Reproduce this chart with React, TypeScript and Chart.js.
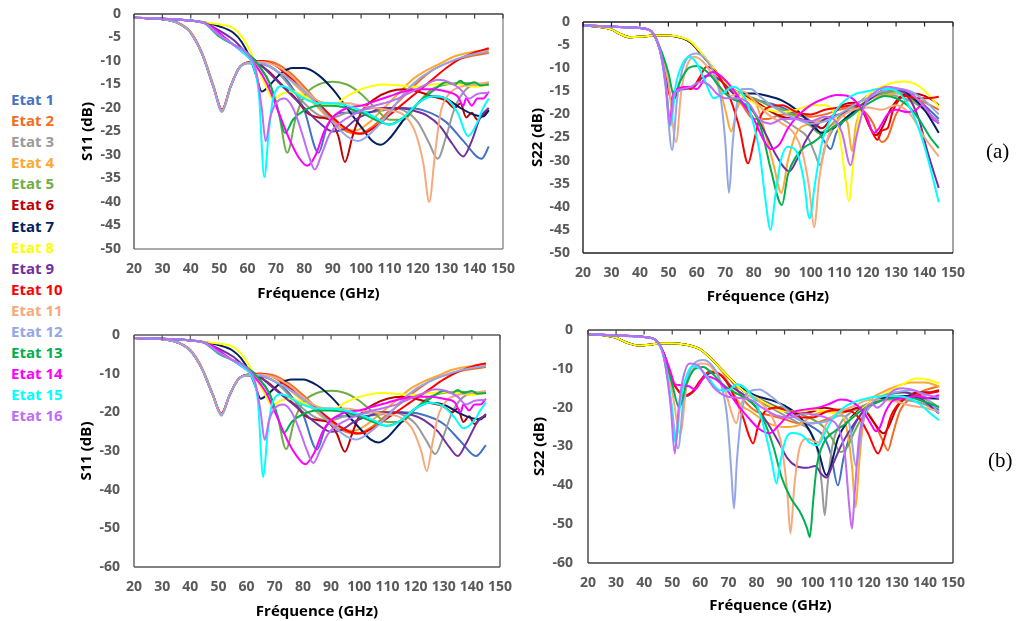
import React, { useEffect, useRef } from "react";
import { Chart, registerables } from "chart.js";

Chart.register(...registerables);

type Pt = [number, number];

const STATE_NAMES = [
  "Etat 1", "Etat 2", "Etat 3", "Etat 4", "Etat 5", "Etat 6", "Etat 7", "Etat 8",
  "Etat 9", "Etat 10", "Etat 11", "Etat 12", "Etat 13", "Etat 14", "Etat 15", "Etat 16",
];
const STATE_COLORS = [
  "#4472C4", "#F36C21", "#9A9A9A", "#FFA733", "#70AD47", "#C00000", "#002060", "#FFFF00",
  "#7030A0", "#FF0000", "#F8A97A", "#94A6E6", "#00B050", "#FF00FF", "#00FFFF", "#C06CF7",
];
const FREQ_TICKS = [20, 30, 40, 50, 60, 70, 80, 90, 100, 110, 120, 130, 140, 150];
const DB_TICKS_A = [0, -5, -10, -15, -20, -25, -30, -35, -40, -45, -50];
const DB_TICKS_B = [0, -10, -20, -30, -40, -50, -60];

// ---------- S11 (a) ----------
const S11A: Pt[][] = [
  [[20,-0.8],[30,-1.1],[35,-1.8],[40,-4],[44,-8.5],[48,-15.5],[51,-20.5],[54,-15.5],[57,-11.5],[60,-10.4],[65,-10.6],[70,-12],[75,-15],[80,-20.5],[85,-29.5],[88,-24],[93,-21],[100,-21],[108,-20.5],[115,-20],[122,-20.5],[130,-23],[136,-27],[142.5,-30.8],[145,-28.2]],
  [[20,-0.8],[30,-1.1],[35,-1.8],[40,-4],[44,-8.5],[48,-15.5],[51,-20.5],[54,-15.5],[57,-11.5],[60,-10.3],[65,-10],[70,-10.5],[75,-12.5],[80,-15.5],[85,-19],[90,-22.5],[95,-25],[99,-25.5],[104,-24],[110,-20.5],[115,-17.5],[120,-14.5],[125,-12],[130,-10.5],[135,-9.5],[140,-8.8],[145,-8.3]],
  [[20,-0.8],[30,-1.1],[35,-1.8],[40,-4],[44,-8.5],[48,-15.5],[51,-20.8],[54,-15.5],[57,-11.5],[60,-10.5],[65,-10.6],[70,-12],[75,-15.5],[80,-19],[85,-21.5],[90,-22],[95,-21],[100,-20.5],[105,-20],[110,-20],[115,-20.5],[120,-23],[124,-27.5],[127,-30.8],[130,-26],[133,-20],[137,-16],[141,-15],[145,-14.7]],
  [[20,-0.8],[30,-1.1],[35,-1.7],[40,-3.8],[44,-8.2],[48,-15.2],[51,-20.5],[54,-15.5],[57,-11.5],[60,-10.3],[65,-10],[70,-11],[75,-14],[80,-17],[85,-20],[90,-23],[95,-24.5],[98,-24.8],[103,-23],[108,-20],[113,-17],[118,-14],[123,-12],[128,-10.5],[133,-9],[140,-8],[145,-7.6]],
  [[20,-0.8],[30,-1],[40,-1.4],[45,-2],[50,-4.5],[55,-6.5],[60,-8.5],[64,-11],[68,-15],[71,-21],[74,-29.5],[77,-22],[80,-17.5],[85,-15],[90,-14.4],[95,-15],[100,-17],[105,-20],[110,-22.5],[115,-22.5],[120,-19],[125,-16],[130,-15],[135,-14.7],[140,-14.8],[145,-15]],
  [[20,-0.8],[30,-1.1],[35,-1.8],[40,-4],[44,-8.5],[48,-15.5],[51,-20.5],[54,-15.5],[57,-11.5],[60,-10.4],[63,-10.5],[67,-12],[72,-15],[77,-18],[81,-21],[85,-22],[89,-22.5],[92,-26],[94.3,-31.5],[97,-26],[100,-21],[105,-18],[110,-16.5],[115,-16],[120,-16.5],[125,-17.5],[130,-18.5],[133,-20],[135,-19],[137,-22],[139,-21],[141,-22.5],[143,-21.5],[145,-20.5]],
  [[20,-0.8],[30,-1],[40,-1.4],[45,-1.8],[50,-2.6],[55,-4],[58,-6],[61,-9.5],[63,-13],[65,-16.5],[68,-15],[72,-12.5],[76,-11.5],[80,-11.5],[85,-13],[90,-16],[95,-20],[100,-24],[104,-27],[107,-27.8],[110,-26.5],[115,-22.5],[120,-19],[125,-17.5],[130,-18],[135,-20],[140,-21.5],[143,-21.8],[145,-20.5]],
  [[20,-0.8],[30,-1],[40,-1.4],[45,-1.8],[50,-2.2],[55,-3],[58,-4.8],[61,-8],[64,-12],[67,-16],[69,-18.3],[72,-17],[76,-16.5],[80,-17.5],[85,-19],[90,-19.5],[95,-17.5],[100,-16],[108,-15],[115,-15.3],[120,-15.5],[125,-15],[130,-14.8],[135,-15],[140,-15.5],[145,-15]],
  [[20,-0.8],[30,-1],[40,-1.4],[45,-1.9],[50,-3.5],[55,-5.5],[60,-8.5],[65,-11],[70,-14],[75,-17],[80,-20],[85,-23],[90,-25],[94,-24.5],[98,-22.5],[103,-21],[108,-20],[113,-20],[118,-20.5],[123,-21.5],[128,-24],[132,-27.5],[136,-30.3],[139,-27],[142,-22],[145,-20]],
  [[20,-0.8],[30,-1.1],[35,-1.8],[40,-4],[44,-8.5],[48,-15.5],[51,-20.3],[54,-15.5],[57,-11.5],[60,-10.3],[65,-10],[70,-11],[75,-13.5],[80,-16],[85,-19],[90,-22],[95,-24.5],[100,-25.5],[105,-24],[110,-21.5],[115,-19],[120,-16.5],[125,-14],[130,-11.5],[135,-9.5],[140,-8.2],[145,-7.3]],
  [[20,-0.8],[30,-1.1],[35,-1.8],[40,-4],[44,-8.5],[48,-15.5],[51,-20.5],[54,-15.5],[57,-11.5],[60,-10.4],[65,-10.2],[70,-11],[75,-13],[80,-16],[85,-18.5],[90,-19],[95,-19],[100,-19.5],[105,-20],[110,-20.5],[115,-21.5],[119,-25],[122,-32],[124,-40],[126,-30],[128,-21],[131,-17],[135,-15.5],[140,-15],[145,-14.5]],
  [[20,-0.8],[30,-1.1],[35,-1.8],[40,-4],[44,-8.5],[48,-15.5],[51,-20.8],[54,-15.5],[57,-11.5],[60,-10.5],[65,-10.5],[70,-12],[75,-14],[80,-16.5],[85,-19.5],[90,-23],[95,-26],[99,-27],[104,-25],[110,-21],[115,-17],[120,-14],[125,-12],[130,-10.5],[135,-9.3],[140,-8.5],[145,-8]],
  [[20,-0.8],[30,-1],[40,-1.4],[45,-2],[50,-4.8],[55,-6.5],[60,-8.3],[64,-11],[68,-15],[71,-21],[73.2,-25.3],[76,-22.5],[80,-20.5],[85,-19.5],[90,-19.5],[95,-20],[100,-21],[105,-22.5],[110,-23.5],[115,-22],[120,-19],[125,-16.5],[130,-14.5],[133,-15],[135,-14.2],[137,-15],[140,-14.5],[142,-15.2],[145,-15]],
  [[20,-0.8],[30,-1],[40,-1.4],[45,-2],[48,-3],[52,-5],[56,-7],[60,-9],[63,-11],[67,-15],[71,-21],[75,-27],[78,-30.5],[81,-32.3],[84,-30],[87,-25],[90,-22],[95,-20],[100,-19.5],[105,-18.5],[110,-17.5],[115,-16.5],[120,-16],[125,-16],[130,-16.5],[134,-17.5],[136,-19.5],[137,-18],[139,-19.5],[141,-18],[143,-18],[145,-16.5]],
  [[20,-0.8],[30,-1],[40,-1.4],[45,-2],[50,-4.5],[55,-6.5],[59,-8.5],[62,-11],[64,-17],[65.9,-34.7],[67.5,-25],[69,-18],[72.4,-15.3],[76,-16.5],[80,-18],[85,-19],[90,-19],[95,-19.5],[100,-20.5],[105,-22],[110,-23.6],[115,-22],[120,-19],[125,-17.5],[130,-18],[134,-21],[137.7,-26],[141,-23],[143,-20],[145,-18]],
  [[20,-0.8],[30,-1],[40,-1.4],[45,-2],[50,-4.5],[55,-6.5],[60,-8.5],[63,-12],[65,-20],[66.4,-27.1],[68,-22],[70,-19],[73,-18],[76,-20],[79,-25],[81.5,-30],[83.7,-33.1],[86,-30],[89,-25.5],[93,-23],[97,-21.5],[102,-20],[108,-19],[113,-18],[118,-16.5],[123,-15],[127,-14],[131,-14.5],[135,-16],[138,-18],[141,-17],[145,-16.8]],
];

// ---------- S11 (b): series that differ from (a) ----------
const S11B_E1: Pt[] = [[20,-0.8],[30,-1.1],[35,-1.8],[40,-4],[44,-8.5],[48,-15.5],[51,-20.5],[54,-15.5],[57,-11.5],[60,-10.4],[65,-10.6],[70,-12],[75,-15],[80,-20.5],[85,-29.6],[88,-24],[93,-21],[100,-21],[108,-20.5],[115,-20],[122,-20.5],[130,-23],[136,-27.5],[141.5,-31.3],[145,-28.5]];
const S11B_E6: Pt[] = [[20,-0.8],[30,-1.1],[35,-1.8],[40,-4],[44,-8.5],[48,-15.5],[51,-20.5],[54,-15.5],[57,-11.5],[60,-10.4],[63,-10.5],[67,-12],[72,-15],[77,-18],[81,-21],[85,-22],[89,-22.5],[92,-25.5],[94.9,-30.2],[97.5,-25.5],[100,-21],[105,-18],[110,-16.5],[115,-16],[120,-16.5],[125,-17.5],[130,-18.5],[133,-20],[135,-19],[137,-22.5],[139,-21],[141,-23],[143,-21.5],[145,-21]];
const S11B_E9: Pt[] = [[20,-0.8],[30,-1],[40,-1.4],[45,-1.9],[50,-3.5],[55,-5.5],[60,-8.5],[65,-11],[70,-14],[75,-17],[80,-20],[85,-23],[90,-25],[94,-24.5],[98,-22.5],[103,-21],[108,-20],[113,-20],[118,-20.5],[123,-22],[128,-25],[132,-29],[135,-31.3],[138,-28],[142,-22.5],[145,-20.5]];
const S11B_E11: Pt[] = [[20,-0.8],[30,-1.1],[35,-1.8],[40,-4],[44,-8.5],[48,-15.5],[51,-20.5],[54,-15.5],[57,-11.5],[60,-10.4],[65,-10.2],[70,-11],[75,-13],[80,-16],[85,-18.5],[90,-19],[95,-19],[100,-19.5],[105,-20],[110,-20.5],[115,-21.5],[119,-24.5],[122,-30],[124,-35.2],[126,-28],[128,-21],[131,-17],[135,-15.5],[140,-15],[145,-14.5]];
const S11B_E14: Pt[] = [[20,-0.8],[30,-1],[40,-1.4],[45,-2],[48,-3],[52,-5],[56,-7],[60,-9],[63,-11],[67,-15],[71,-21.5],[75,-28],[78,-31.5],[80.8,-33.4],[84,-30.5],[87,-25],[90,-22],[95,-20],[100,-19.5],[105,-18.5],[110,-17.5],[115,-16.5],[120,-16],[125,-16],[130,-16.5],[134,-17.5],[136,-20],[137,-18],[139,-19.5],[141,-18],[143,-18],[145,-16.5]];
const S11B_E15: Pt[] = [[20,-0.8],[30,-1],[40,-1.4],[45,-2],[50,-4.5],[55,-6.5],[59,-8.5],[62,-11],[64,-17],[65.9,-36.7],[67.5,-25],[69,-18],[72.4,-15.3],[76,-16.5],[80,-18],[85,-19],[90,-19],[95,-19.5],[100,-20.5],[105,-22],[110,-23.6],[115,-22],[120,-19],[125,-17.5],[130,-18.5],[134,-21.5],[137,-24.1],[141,-22],[143,-19.5],[145,-17.5]];
const S11B: Pt[][] = [
  S11B_E1, S11A[1], S11A[2], S11A[3], S11A[4], S11B_E6, S11A[6], S11A[7],
  S11B_E9, S11A[9], S11B_E11, S11A[11], S11A[12], S11B_E14, S11B_E15, S11A[15],
];

// ---------- S22 (a) ----------
const S22A: Pt[][] = [
  [[20,-0.7],[25,-1],[30,-1.6],[33,-2.6],[36.5,-3.3],[40,-3.2],[45,-2.9],[50,-2.9],[55,-3.5],[58,-4.5],[61,-6.5],[64,-8.7],[67,-11],[71,-13.7],[75,-15.5],[79,-16.5],[85,-17.5],[90,-18.5],[95,-20],[99,-21],[102,-23],[105,-26],[107,-27.5],[109,-24],[112,-21],[116,-19],[120,-17],[125,-15.5],[130,-15],[135,-15.5],[140,-18],[145,-21]],
  [[20,-0.7],[25,-1],[30,-1.6],[33,-2.6],[36.5,-3.3],[40,-3.2],[45,-2.9],[50,-2.9],[55,-3.5],[58,-4.5],[61,-6.5],[64,-8.7],[67,-11],[71,-14],[76,-18],[80,-21],[85,-21],[90,-20],[95,-20],[100,-20.5],[105,-20],[110,-19],[115,-18.5],[119,-19.5],[122,-22],[125,-26],[127,-25],[130,-20],[134,-17],[138,-17],[142,-18],[145,-19]],
  [[20,-0.7],[25,-1],[30,-1.6],[33,-2.6],[36.5,-3.3],[40,-3.2],[45,-2.9],[50,-2.9],[55,-3.5],[58,-4.5],[61,-6.5],[64,-8.7],[67,-11],[71,-13.7],[75,-15.5],[80,-17],[85,-19],[90,-21],[95,-23],[99,-25],[101.5,-28.5],[103.3,-31],[105,-27],[108,-23],[112,-19.5],[116,-18],[120,-16],[125,-15.5],[130,-16],[135,-17],[140,-19],[145,-21.5]],
  [[20,-0.7],[25,-1],[30,-1.6],[33,-2.6],[36.5,-3.3],[40,-3.2],[45,-2.9],[50,-2.9],[55,-3.5],[58,-4.5],[61,-6.5],[64,-8.7],[67,-12],[70,-19],[72.1,-23.7],[74,-19],[77,-16],[81,-18],[84,-24],[87,-31],[89.7,-37],[92,-30],[95,-24],[100,-22],[105,-21],[110,-20],[113,-22],[114.5,-28],[116,-22],[120,-17],[125,-16],[130,-15.5],[135,-16.5],[140,-19],[145,-22]],
  [[20,-0.7],[25,-1],[30,-1.6],[33,-2.6],[36.5,-3.3],[40,-3.2],[45,-2.9],[50,-2.9],[55,-3.5],[58,-4.5],[61,-6.5],[64,-8.7],[67,-11],[71,-13.7],[75,-15.5],[80,-16.5],[85,-18],[90,-19],[95,-20.5],[100,-22.5],[103,-24],[106,-23],[110,-20.5],[115,-18],[120,-16.5],[125,-15.5],[130,-15],[135,-16.5],[140,-19],[145,-22]],
  [[20,-0.7],[25,-1],[30,-1.6],[33,-2.6],[36.5,-3.3],[40,-3.2],[45,-2.9],[50,-2.9],[55,-3.5],[58,-4.5],[61,-6.5],[64,-8.7],[67,-11],[71,-13.7],[75,-15.5],[80,-17],[85,-19],[90,-20.5],[95,-21],[100,-21.5],[104,-23],[107,-21],[110,-18.5],[115,-17.5],[118,-19],[121,-23],[123,-24.5],[125,-23],[128,-19],[132,-16],[136,-15.5],[140,-16],[143,-17],[145,-18]],
  [[20,-0.7],[25,-1],[30,-1.6],[33,-2.6],[36.5,-3.3],[40,-3.2],[45,-2.9],[50,-2.9],[55,-3.5],[58,-4.5],[61,-6.5],[64,-8.7],[67,-11],[71,-13.7],[75,-15.3],[80,-15.5],[85,-16],[90,-17],[95,-19],[100,-22],[104,-24],[108,-23],[112,-21],[116,-19],[120,-17],[125,-15],[130,-14.5],[135,-16],[140,-19],[145,-24]],
  [[20,-0.7],[25,-1],[30,-1.6],[33,-2.6],[36.5,-3.3],[40,-3.2],[45,-2.9],[50,-2.9],[55,-3.4],[58,-4.3],[61,-6.3],[64,-8.5],[67,-11],[71,-13.7],[75,-15.5],[80,-17.5],[85,-19],[90,-19.5],[95,-19],[100,-18],[105,-18],[108,-19.5],[110,-24],[112,-33],[113.4,-38.8],[115,-30],[117,-20],[120,-16],[125,-14],[130,-13],[133,-12.9],[137,-13.5],[141,-15.5],[145,-18.3]],
  [[20,-0.7],[30,-1],[40,-1.3],[44,-2],[47,-6],[49.5,-13],[51.5,-17],[53.5,-15],[56,-14.5],[59,-14],[62,-12],[65,-11.5],[68,-12.5],[72,-15],[76,-17.5],[80,-19.5],[84,-24],[88,-29],[92.5,-32.3],[95,-30],[98,-26],[101,-23],[105,-21],[110,-20],[115,-19],[120,-17],[125,-15],[130,-14.5],[134,-16],[138,-21],[141,-28],[145,-35.9]],
  [[20,-0.7],[30,-1],[40,-1.3],[44,-2],[47,-6],[49.5,-13],[51,-16.9],[53,-15],[55,-14],[58,-14.5],[61,-12],[63.4,-9.7],[66,-10.5],[69,-13],[72,-17],[75,-23],[78,-30.6],[80,-26],[82,-21],[85,-18.5],[90,-18],[95,-19.5],[100,-20],[105,-19],[110,-18.5],[115,-18],[119,-20],[121,-23],[123.5,-25.5],[125,-23.5],[127,-23],[129,-19],[133,-16],[137,-16.5],[141,-16.5],[145,-16.2]],
  [[20,-0.7],[30,-1],[40,-1.3],[44,-2],[47,-5.5],[50,-13],[52.7,-26],[54.5,-15],[56.5,-9.5],[59,-7.5],[62,-8.5],[65,-11],[68,-14.5],[72,-16],[76,-15],[80,-17],[85,-20],[90,-22],[94,-24],[97,-28],[99.5,-36],[101.2,-44.4],[103,-34],[106,-25],[110,-21],[115,-19],[120,-18.5],[125,-19],[130,-18],[135,-20],[140,-25],[145,-29.1]],
  [[20,-0.7],[30,-1],[40,-1.3],[44,-2],[47,-6],[49,-14],[51.3,-27.7],[53,-17],[55,-10],[57,-7.5],[59.8,-6.8],[63,-8],[66,-11],[68.5,-17],[70,-26],[71.3,-37],[72.5,-27],[74,-18],[76,-14.5],[79,-14.5],[82,-16],[86,-18],[90,-19.5],[95,-21],[100,-22],[105,-21.5],[110,-20],[115,-18],[120,-16.5],[125,-15],[130,-14.5],[135,-15],[140,-17],[145,-20]],
  [[20,-0.7],[30,-1],[40,-1.3],[44,-2],[47,-5.5],[50,-11],[52,-16],[54,-13],[57,-10],[60,-9.5],[64,-11],[68,-14],[72,-16.5],[76,-17.5],[80,-19.5],[83,-24],[86,-32],[89.9,-39.6],[92,-33],[95,-29],[98,-27],[101,-26],[105,-24],[110,-22],[114,-20.5],[118,-18.5],[122,-17],[126,-16],[130,-16.5],[134,-18],[138,-21],[142,-25],[145,-27.3]],
  [[20,-0.7],[30,-1],[40,-1.3],[44,-2],[47,-6],[49,-13],[50.5,-21],[52,-15],[54,-14.3],[57,-14],[60,-14.5],[63,-12],[65.5,-10.8],[68,-11.5],[72,-14],[76,-17.5],[80,-21],[83,-25],[86,-27.5],[89,-26.5],[92,-23],[96,-20],[100,-18],[105,-16.5],[109,-15.8],[113,-16],[117,-18],[120,-21],[122,-24],[124,-23],[127,-20],[130,-19],[134,-19.5],[137,-19],[139,-18],[141,-19],[143,-21],[145,-21.9]],
  [[20,-0.7],[30,-1],[40,-1.3],[44,-2],[47,-6],[49,-13],[50.8,-22.5],[52.5,-14],[55,-9],[57.3,-7.5],[60,-9],[63,-13],[66,-16.5],[69,-15.5],[72.7,-14],[76,-15.5],[79,-20],[82,-28],[84,-38],[85.9,-45],[87.5,-38],[89.5,-30],[92,-27],[95,-28],[97.5,-34],[99.6,-42.5],[101.5,-35],[104,-26],[108,-20],[112,-17],[116,-15.5],[120,-15],[124,-14.5],[128,-14.5],[132,-16],[136,-20],[140,-27],[143,-34],[145,-39]],
  [[20,-0.7],[30,-1],[40,-1.3],[44,-2],[47,-6],[49,-13],[50.5,-22.3],[52,-15.5],[55,-14.5],[58,-14],[61,-13],[64,-13.5],[67,-15.5],[70,-16.5],[74,-16.5],[78,-17.5],[82,-21],[86,-22],[90,-21],[95,-21],[100,-21.5],[105,-20.5],[108,-21],[111,-24],[114,-31],[116,-25],[119,-18],[123,-15],[127,-14],[130,-14.3],[134,-15],[138,-17],[142,-20],[145,-22]],
];

// ---------- S22 (b) ----------
const S22B: Pt[][] = [
  [[20,-1],[25,-1.3],[30,-2],[34,-3.3],[38,-4],[42,-3.8],[46,-3.4],[50,-3.4],[55,-3.8],[60,-5],[64,-7.5],[68,-10.5],[72,-13.5],[76,-16],[80,-17.5],[85,-19],[90,-21],[95,-23],[100,-25],[104,-27.5],[106.5,-32],[109,-40],[111,-33],[114,-26],[118,-21],[122,-19],[127,-17.5],[132,-17],[137,-17.5],[141,-19],[145,-20.6]],
  [[20,-1],[25,-1.3],[30,-2],[34,-3.3],[38,-4],[42,-3.8],[46,-3.4],[50,-3.4],[55,-3.8],[60,-5],[64,-7.5],[68,-10.5],[72,-14],[76,-18.5],[80,-21],[85,-22],[90,-23],[95,-24],[100,-24],[105,-23],[110,-21.5],[115,-20.5],[119,-21],[122,-24],[125,-28.5],[126.8,-31],[128.5,-27],[131,-21],[135,-17.5],[140,-15.5],[145,-14.5]],
  [[20,-1],[25,-1.3],[30,-2],[34,-3.3],[38,-4],[42,-3.8],[46,-3.4],[50,-3.4],[55,-3.8],[60,-5],[64,-7.5],[68,-10.5],[72,-13.5],[76,-16],[80,-18],[85,-20],[90,-22],[95,-24],[99,-26],[102,-32],[103.3,-40],[104.3,-47.7],[105.3,-40],[107,-30],[110,-24],[114,-21],[118,-19.5],[122,-18.5],[127,-18],[132,-18],[137,-18.5],[141,-19.5],[145,-21]],
  [[20,-1],[25,-1.3],[30,-2],[34,-3.3],[38,-4],[42,-3.8],[46,-3.4],[50,-3.4],[55,-3.8],[60,-5],[64,-7.5],[68,-11],[71,-15],[74,-19],[78,-21],[82,-23],[86,-24.5],[90,-25],[95,-24.5],[100,-22],[105,-21],[109,-21],[112,-25],[114,-35],[115.3,-45.6],[116.5,-35],[118,-24],[121,-18],[125,-16],[130,-14.5],[135,-13.5],[140,-13.5],[145,-14.5]],
  [[20,-1],[25,-1.3],[30,-2],[34,-3.3],[38,-4],[42,-3.8],[46,-3.4],[50,-3.4],[55,-3.8],[60,-5],[64,-7.5],[68,-10.5],[72,-13.5],[76,-16],[80,-18],[85,-19.5],[90,-20],[95,-21.5],[100,-23],[104,-25],[107,-28],[110,-31.4],[112.5,-30],[115,-26],[119,-21],[123,-18],[128,-16.5],[133,-16],[138,-17],[142,-18.5],[145,-20]],
  [[20,-1],[25,-1.3],[30,-2],[34,-3.3],[38,-4],[42,-3.8],[46,-3.4],[50,-3.4],[55,-3.8],[60,-5],[64,-7.5],[68,-10.5],[72,-13.5],[76,-16],[80,-17.5],[85,-19.5],[90,-20.5],[95,-21.5],[100,-21],[104,-20],[108,-20.5],[112,-21],[116,-20],[119,-21],[122,-24],[125.3,-26.6],[127,-25],[130,-20],[134,-17],[138,-16],[142,-16],[145,-15.5]],
  [[20,-1],[25,-1.3],[30,-2],[34,-3.3],[38,-4],[42,-3.8],[46,-3.4],[50,-3.4],[55,-3.8],[60,-5],[64,-7.5],[68,-10.5],[72,-13.5],[76,-15.5],[80,-17],[85,-18],[90,-19.5],[95,-22],[99,-26],[102,-31],[104.9,-37.4],[106.5,-35],[109,-28],[112,-24],[116,-21],[120,-19],[125,-17.5],[130,-17],[135,-17],[140,-17.5],[145,-17.7]],
  [[20,-1],[25,-1.3],[30,-2],[34,-3.3],[38,-4],[42,-3.8],[46,-3.4],[50,-3.4],[55,-3.8],[60,-5],[64,-7.5],[68,-10.5],[72,-13.5],[76,-16],[80,-17.5],[85,-19.5],[90,-21],[95,-21],[100,-20.5],[105,-21],[110,-22],[113,-23],[115,-22],[118,-20],[122,-18],[127,-16],[132,-14],[137,-12.5],[141,-12.8],[145,-13.7]],
  [[20,-1],[30,-1.4],[40,-1.8],[44,-2.5],[47,-6],[50,-13],[52.5,-16],[55,-17],[58,-15.5],[61,-12.5],[64,-11],[67,-11.5],[71,-14.5],[76,-17],[80,-20],[84,-24],[88,-29],[91,-33],[94,-35],[98,-35.5],[101,-35],[103,-37],[105,-38],[107,-35],[110,-30],[114,-25],[118,-21],[122,-18.5],[127,-16.5],[132,-16],[137,-17],[141,-19],[145,-21.5]],
  [[20,-1],[30,-1.4],[40,-1.8],[44,-2.5],[47,-6],[50,-13],[52,-15.5],[54,-16.8],[57,-16],[60,-13],[63.3,-10.7],[66,-11],[69,-13],[72,-17],[75,-22],[77.5,-27.5],[78.8,-29.2],[80.5,-25],[83,-21],[87,-20],[92,-21],[96,-22.5],[100,-22.5],[105,-21],[110,-20.5],[114,-21],[117,-23],[120,-27],[123.3,-31.8],[125.5,-28],[128,-22],[132,-18],[136,-17],[140,-16.5],[145,-15.8]],
  [[20,-1],[30,-1.4],[40,-1.8],[44,-2.5],[47,-6.5],[50,-16],[52.9,-26.7],[55,-15],[57.5,-10],[60.5,-8.6],[63,-9],[66,-11.5],[69,-16],[71,-21],[72.8,-24],[74.5,-19],[78,-17],[82,-19],[86,-23],[89,-30],[91,-42],[92.1,-52.4],[93.5,-40],[95.5,-30],[98,-28],[102,-29],[105,-24],[110,-21],[115,-19.5],[120,-18],[125,-18],[130,-18.5],[135,-19.5],[140,-20],[145,-21]],
  [[20,-1],[30,-1.4],[40,-1.8],[44,-2.5],[47,-7],[49.5,-18],[52.1,-30.5],[54,-18],[56,-11],[58,-8.5],[61,-7.7],[64,-9],[67,-13],[69.5,-22],[71,-36],[72,-46],[73,-34],[75,-20],[77,-16],[81,-15.3],[85,-17],[90,-20],[95,-23],[100,-24],[105,-23.5],[110,-22],[113,-24],[115.5,-35],[117.5,-25],[121,-19],[125,-17],[130,-16],[135,-15.5],[140,-17],[145,-21.5]],
  [[20,-1],[30,-1.4],[40,-1.8],[44,-2.5],[47,-6],[50,-14],[52.5,-20],[55,-14],[58,-10],[61,-9.5],[64,-11],[68,-14],[72,-16],[76,-17.5],[80,-20],[83,-24],[86,-30],[89,-38],[92,-43],[96,-47.5],[98,-51],[99,-53.3],[100.2,-44],[101.5,-35],[104,-29],[108,-26],[112,-24],[116,-21.5],[120,-19.5],[125,-18],[130,-17.5],[135,-17.5],[140,-18.5],[145,-19.8]],
  [[20,-1],[30,-1.4],[40,-1.8],[44,-2.5],[47,-6],[49.5,-11],[51,-14],[53,-14.2],[56,-14.5],[58,-15.3],[61.8,-12],[65,-12.5],[69,-15],[73,-19],[77,-22.5],[81,-25.5],[84.7,-26.6],[88,-24.5],[92,-21.5],[97,-20.5],[102,-20],[106,-19],[110,-17.9],[114,-18.5],[118,-21],[121,-24.5],[122.6,-26.1],[124,-25],[126,-21],[129,-18],[133,-17.5],[137,-17],[141,-17.5],[145,-16.8]],
  [[20,-1],[30,-1.4],[40,-1.8],[44,-2.5],[47,-7],[49.5,-18],[51.2,-29],[53,-18],[55,-12],[57.4,-9.3],[60,-10],[63,-12.5],[67,-15.5],[70,-15.5],[73,-14],[76,-15],[80,-19],[83,-26],[85.5,-34],[87.1,-39.5],[88.5,-34],[90.5,-28],[93,-26.5],[96,-27],[99,-29],[101.9,-29.7],[104,-27],[107,-23],[111,-20],[115,-18.5],[120,-17.5],[125,-17],[130,-17],[134,-17.5],[138,-19],[142,-21.5],[145,-23.2]],
  [[20,-1],[30,-1.4],[40,-1.8],[44,-2.5],[47,-7],[49.5,-20],[50.9,-31.8],[52.3,-20],[54,-12],[56.2,-8.6],[59,-9],[62,-12],[65,-15],[69,-17],[74,-17.5],[78,-18],[82,-20],[87,-22],[92,-22.5],[97,-21.5],[102,-22],[106,-23],[109,-25],[111.5,-32],[113,-45],[114,-51.1],[115,-42],[116.5,-28],[118.5,-21],[121,-19],[123,-20],[125,-19],[128,-16],[132,-15],[136,-15.5],[140,-16.5],[145,-17.5]],
];

const FONT = "'Open Sans', 'DejaVu Sans', sans-serif";

type Area = { l: number; t: number; r: number; b: number };
type PanelProps = {
  area: Area;
  yTitle: string;
  yTicks: number[];
  series: Pt[][];
  yTitleX: number;
  xTitleY: number;
  yTickPad: number;
  xTickPad: number;
  frame: { left: string; top: string; right: string; bottom: string };
};

const PAD_TOP = 26;
const PAD_RIGHT = 30;

function Panel(p: PanelProps) {
  const ref = useRef<HTMLCanvasElement>(null);
  const canvasLeft = p.yTitleX - 9;
  const yAxisW = p.area.l - canvasLeft;
  const canvasTop = p.area.t - PAD_TOP;
  const width = p.area.r + PAD_RIGHT - canvasLeft;
  const height = p.xTitleY + 9 - canvasTop;
  const xAxisH = p.xTitleY + 9 - p.area.b;

  useEffect(() => {
    const frame = {
      id: "frame",
      afterDatasetsDraw(chart: any) {
        const { ctx, chartArea } = chart;
        const { left, top, right, bottom } = chartArea;
        const xs = chart.scales.x;
        ctx.save();
        ctx.lineWidth = 1.4;
        const seg = (c: string, x1: number, y1: number, x2: number, y2: number) => {
          ctx.strokeStyle = c;
          ctx.beginPath();
          ctx.moveTo(x1, y1);
          ctx.lineTo(x2, y2);
          ctx.stroke();
        };
        seg(p.frame.right, right, top, right, bottom);
        seg(p.frame.bottom, left, bottom, right, bottom);
        seg(p.frame.left, left, top, left, bottom);
        seg(p.frame.top, left, top, right, top);
        ctx.lineWidth = 1.2;
        for (const v of FREQ_TICKS) {
          const px = xs.getPixelForValue(v);
          seg(p.frame.top, px, top, px, top + 4.5);
        }
        ctx.restore();
      },
    };
    const n = p.series.length;
    const chart = new Chart(ref.current as HTMLCanvasElement, {
      type: "line",
      data: {
        datasets: p.series.map((pts, i) => ({
          label: STATE_NAMES[i],
          data: pts.map(([x, y]) => ({ x, y })),
          borderColor: STATE_COLORS[i],
          backgroundColor: STATE_COLORS[i],
          borderWidth: 2,
          pointRadius: 0,
          cubicInterpolationMode: "monotone" as const,
          fill: false,
          order: n - i,
        })),
      },
      options: {
        responsive: false,
        animation: false,
        events: [],
        layout: { padding: { top: PAD_TOP, right: PAD_RIGHT, left: 0, bottom: 0 } },
        plugins: { legend: { display: false }, tooltip: { enabled: false } },
        scales: {
          x: {
            type: "linear",
            min: 20,
            max: 150,
            afterBuildTicks: (s: any) => {
              s.ticks = FREQ_TICKS.map((v) => ({ value: v }));
            },
            afterFit: (s: any) => {
              s.height = xAxisH;
            },
            ticks: {
              padding: p.xTickPad,
              color: "#595959",
              font: { family: FONT, size: 14, weight: "bold" },
              callback: (v: any) => String(v),
              maxRotation: 0,
              autoSkip: false,
            },
            grid: { display: false, drawTicks: false },
            border: { display: false },
            title: {
              display: true,
              text: "Fréquence (GHz)",
              color: "#000",
              font: { family: FONT, size: 15, weight: "bold" },
              padding: { top: 0, bottom: 0 },
            },
          },
          y: {
            type: "linear",
            min: p.yTicks[p.yTicks.length - 1],
            max: p.yTicks[0],
            afterBuildTicks: (s: any) => {
              s.ticks = p.yTicks.slice().reverse().map((v) => ({ value: v }));
            },
            afterFit: (s: any) => {
              s.width = yAxisW;
            },
            ticks: {
              padding: p.yTickPad,
              color: "#595959",
              font: { family: FONT, size: 14, weight: "bold" },
              callback: (v: any) => String(v),
              autoSkip: false,
            },
            grid: { display: false, drawTicks: false },
            border: { display: false },
            title: {
              display: true,
              text: p.yTitle,
              color: "#000",
              font: { family: FONT, size: 15, weight: "bold" },
              padding: { top: 0, bottom: 0 },
            },
          },
        },
      } as any,
      plugins: [frame],
    });
    return () => chart.destroy();
  }, []);

  return (
    <canvas
      ref={ref}
      width={width}
      height={height}
      style={{ position: "absolute", left: canvasLeft, top: canvasTop, width, height }}
    />
  );
}

export default function App() {
  return (
    <div
      style={{
        position: "fixed",
        left: 0,
        top: 0,
        width: 1016,
        height: 621,
        background: "#fff",
        overflow: "hidden",
      }}
    >
      <div style={{ position: "absolute", left: 11, top: 89, fontFamily: FONT, fontWeight: 700, fontSize: 15 }}>
        {STATE_NAMES.map((n, i) => (
          <div key={n} style={{ color: STATE_COLORS[i], height: 21.1, lineHeight: "21.1px", whiteSpace: "nowrap" }}>
            {n}
          </div>
        ))}
      </div>
      <Panel
        area={{ l: 134, t: 14, r: 503, b: 249 }}
        yTitle="S11 (dB)"
        yTicks={DB_TICKS_A}
        series={S11A}
        yTitleX={88}
        xTitleY={294}
        yTickPad={13}
        xTickPad={12}
        frame={{ left: "#595959", top: "#404040", right: "#8c8c8c", bottom: "#8c8c8c" }}
      />
      <Panel
        area={{ l: 583, t: 22, r: 953, b: 253 }}
        yTitle="S22 (dB)"
        yTicks={DB_TICKS_A}
        series={S22A}
        yTitleX={538}
        xTitleY={297}
        yTickPad={13}
        xTickPad={12}
        frame={{ left: "#202020", top: "#202020", right: "#7f7f7f", bottom: "#202020" }}
      />
      <Panel
        area={{ l: 134, t: 335, r: 500, b: 567 }}
        yTitle="S11 (dB)"
        yTicks={DB_TICKS_B}
        series={S11B}
        yTitleX={87}
        xTitleY={612}
        yTickPad={14}
        xTickPad={12}
        frame={{ left: "#595959", top: "#595959", right: "#595959", bottom: "#595959" }}
      />
      <Panel
        area={{ l: 588, t: 330, r: 953, b: 563 }}
        yTitle="S22 (dB)"
        yTicks={DB_TICKS_B}
        series={S22B}
        yTitleX={540}
        xTitleY={606}
        yTickPad={15}
        xTickPad={12}
        frame={{ left: "#404040", top: "#404040", right: "#404040", bottom: "#404040" }}
      />
      <div style={{ position: "absolute", left: 986, top: 139, fontFamily: "'Liberation Serif', serif", fontSize: 21 }}>(a)</div>
      <div style={{ position: "absolute", left: 988, top: 448, fontFamily: "'Liberation Serif', serif", fontSize: 21 }}>(b)</div>
    </div>
  );
}
